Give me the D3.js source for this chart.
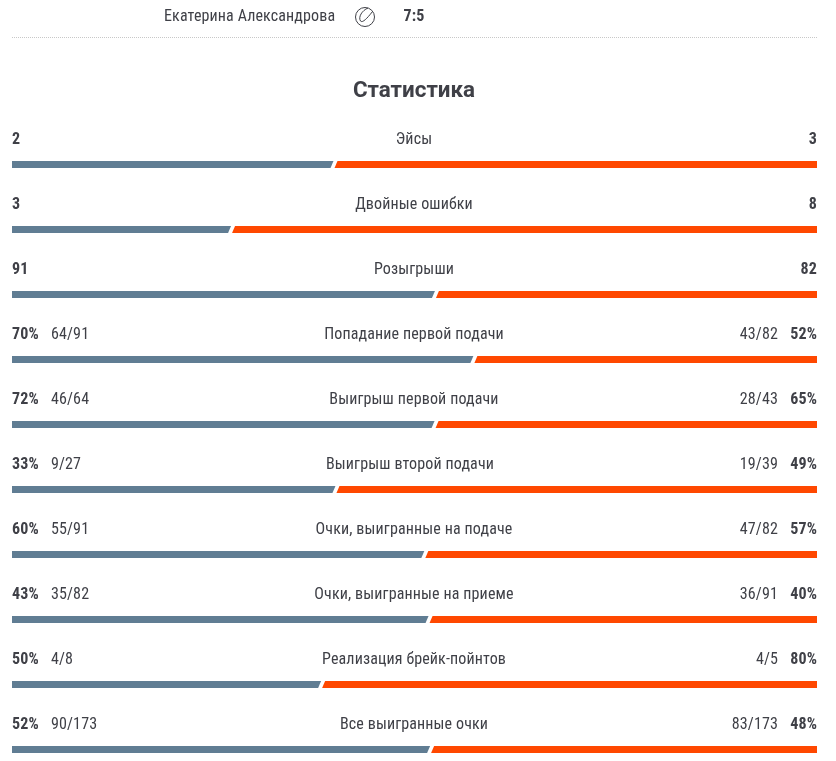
<!DOCTYPE html>
<html><head><meta charset="utf-8">
<script src="https://cdn.jsdelivr.net/npm/d3@7"></script>
<style>html,body{margin:0;padding:0;background:#fff}svg{display:block;will-change:transform}
text{font-family:Roboto,sans-serif;fill:#3f4047;font-size:16px}
.b{font-weight:700}.c{font-stretch:condensed;letter-spacing:.13px}</style></head>
<body><svg id="c" width="836" height="761"></svg>
<script>
const playerName = "Екатерина Александрова";
const setScore = "7:5";
const heading = "Статистика";
const categories = ["Эйсы","Двойные ошибки","Розыгрыши","Попадание первой подачи","Выигрыш первой подачи","Выигрыш второй подачи","Очки, выигранные на подаче","Очки, выигранные на приеме","Реализация брейк-пойнтов","Все выигранные очки"];
const leftValues = [2,3,91,70,72,33,60,43,50,52];
const rightValues = [3,8,82,52,65,49,57,40,80,48];
const leftMain = ["2","3","91","70%","72%","33%","60%","43%","50%","52%"];
const rightMain = ["3","8","82","52%","65%","49%","57%","40%","80%","48%"];
const leftDetail = ["","","","64/91","46/64","9/27","55/91","35/82","4/8","90/173"];
const rightDetail = ["","","","43/82","28/43","19/39","47/82","36/91","4/5","83/173"];
const colors = ["#607d93","#ff4800"];

const svg = d3.select("#c");
const x = d3.scaleLinear().domain([0,1]).range([12,817]);
const y = d3.scaleBand().domain(categories).range([118,768]).paddingInner(0);
const barH = 7, barOff = 43, slant = 3, gap = 2;

// header
svg.append("text").attr("x",164).attr("y",20.5).attr("class","c").text(playerName);
const ball = svg.append("g").attr("transform","translate(365,17)").attr("fill","none").attr("stroke","#3f4047").attr("stroke-width",1);
ball.append("circle").attr("r",9.5);
ball.append("path").attr("d","M3,-9 C-3,-6.5 -7,0 -4.5,4 C-3,6 1,3 7.5,-5.5");
svg.append("text").attr("x",414).attr("y",20.5).attr("text-anchor","middle").attr("class","b c").text(setScore);
svg.append("line").attr("x1",12).attr("x2",817).attr("y1",37.5).attr("y2",37.5).attr("stroke","#c8c8c8").attr("stroke-dasharray","1 1");
svg.append("text").attr("x",414).attr("y",97).attr("text-anchor","middle").attr("class","b").style("font-size","22.4px").text(heading);

const rows = svg.selectAll("g.row").data(categories).join("g").attr("class","row")
  .attr("transform",d=>`translate(0,${y(d)})`);
const base = 26;
const label = rows.append("text").attr("x",414).attr("y",base).attr("text-anchor","middle").attr("class","c").text(d=>d);
rows.append("text").attr("x",12).attr("y",base).attr("class","b c").text((d,i)=>leftMain[i]);
rows.append("text").attr("x",817).attr("y",base).attr("text-anchor","end").attr("class","b c").text((d,i)=>rightMain[i]);
const ld = rows.append("text").attr("x",51).attr("y",base).attr("class","c").text((d,i)=>leftDetail[i]);
const rd = rows.append("text").attr("x",778).attr("y",base).attr("text-anchor","end").attr("class","c").text((d,i)=>rightDetail[i]);
// the label sits midway between the left and right text groups
const ldn = ld.nodes(), rdn = rd.nodes();
label.attr("x",(d,i)=>414+(ldn[i].getComputedTextLength()-rdn[i].getComputedTextLength())/2);
const split = i => x(leftValues[i]/(leftValues[i]+rightValues[i]));
rows.append("path").attr("fill",colors[0]).attr("d",(d,i)=>{const s=split(i);
  return `M${x(0)},${barOff}H${s-gap+slant/2}L${s-gap-slant/2},${barOff+barH}H${x(0)}Z`});
rows.append("path").attr("fill",colors[1]).attr("d",(d,i)=>{const s=split(i);
  return `M${s+gap+slant/2},${barOff}H${x(1)}V${barOff+barH}H${s+gap-slant/2}Z`});
</script></body></html>
